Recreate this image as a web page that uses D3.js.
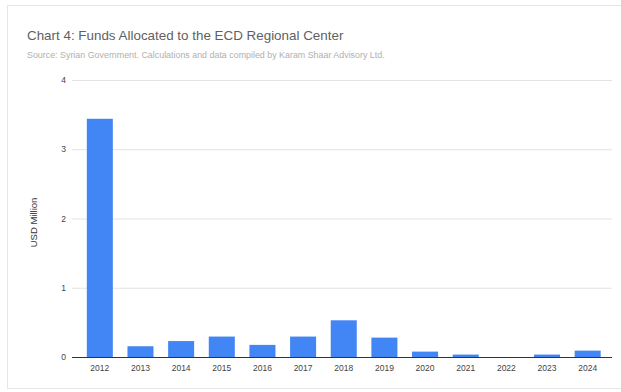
<!DOCTYPE html>
<html>
<head>
<meta charset="utf-8">
<script src="https://cdn.jsdelivr.net/npm/d3@7"></script>
<style>
  html, body { margin: 0; padding: 0; background: #fff; }
  svg { display: block; font-family: "Liberation Sans", Arial, sans-serif; }
</style>
</head>
<body>
<svg id="chart" width="621" height="392"></svg>
<script>
// Funds allocated per year (USD million)
const years = ["2012","2013","2014","2015","2016","2017","2018","2019","2020","2021","2022","2023","2024"];
const funds = [3.44, 0.155, 0.23, 0.295, 0.175, 0.295, 0.53, 0.28, 0.078, 0.035, 0, 0.035, 0.092];
const yTicks = [0, 1, 2, 3, 4];

const titleText = "Chart 4: Funds Allocated to the ECD Regional Center";
const subtitleText = "Source: Syrian Government. Calculations and data compiled by Karam Shaar Advisory Ltd.";
const yTitle = "USD Million";

const svg = d3.select("#chart");

// card outline
svg.append("rect")
  .attr("x", 7.5).attr("y", 5.5)
  .attr("width", 620).attr("height", 383)
  .attr("fill", "#fff").attr("stroke", "#e6e6e6");

svg.append("text")
  .attr("x", 27).attr("y", 40)
  .attr("font-size", 13.4).attr("fill", "#5f5f5f")
  .text(titleText);

svg.append("text")
  .attr("x", 27).attr("y", 58)
  .attr("font-size", 8.9).attr("fill", "#b0b0b0")
  .text(subtitleText);

const plot = { left: 72, right: 612, top: 80, bottom: 357 };

const x = d3.scaleBand()
  .domain(years)
  .range([79.5, 608])
  .paddingInner(0.36)
  .paddingOuter(0.18);

const y = d3.scaleLinear()
  .domain([0, 4])
  .range([plot.bottom, plot.top]);

// horizontal grid
svg.append("g")
  .selectAll("line")
  .data(yTicks.filter(t => t > 0))
  .join("line")
  .attr("x1", plot.left).attr("x2", plot.right)
  .attr("y1", d => y(d) + 0.5).attr("y2", d => y(d) + 0.5)
  .attr("stroke", "#e3e3e3");

// y tick labels
const yAxis = svg.append("g")
  .attr("transform", `translate(${plot.left},0)`)
  .call(d3.axisLeft(y).tickValues(yTicks).tickFormat(d3.format("d")).tickSize(0).tickPadding(6));
yAxis.select(".domain").remove();
yAxis.selectAll("text").attr("font-size", 8.5).attr("fill", "#444")
  .attr("font-family", "\"Liberation Sans\", Arial, sans-serif");

// y title
svg.append("text")
  .attr("transform", `translate(37,${(plot.top + plot.bottom) / 2 + 4}) rotate(-90)`)
  .attr("text-anchor", "middle")
  .attr("font-size", 9.5).attr("fill", "#333")
  .text(yTitle);

// bars
svg.append("g")
  .selectAll("rect")
  .data(years.map((yr, i) => ({ yr, v: funds[i] })))
  .join("rect")
  .attr("x", d => x(d.yr))
  .attr("width", x.bandwidth())
  .attr("y", d => y(d.v))
  .attr("height", d => y(0) - y(d.v))
  .attr("fill", "#4285f4");

// baseline and category labels
const xAxis = svg.append("g")
  .attr("transform", `translate(0,${plot.bottom})`)
  .call(d3.axisBottom(x).tickSize(0).tickPadding(8));
xAxis.select(".domain").remove();
xAxis.selectAll("text").attr("font-size", 8.5).attr("fill", "#444")
  .attr("font-family", "\"Liberation Sans\", Arial, sans-serif");

svg.append("line")
  .attr("x1", plot.left).attr("x2", plot.right)
  .attr("y1", plot.bottom + 0.5).attr("y2", plot.bottom + 0.5)
  .attr("stroke", "#333").attr("stroke-width", 1.2);
</script>
</body>
</html>
